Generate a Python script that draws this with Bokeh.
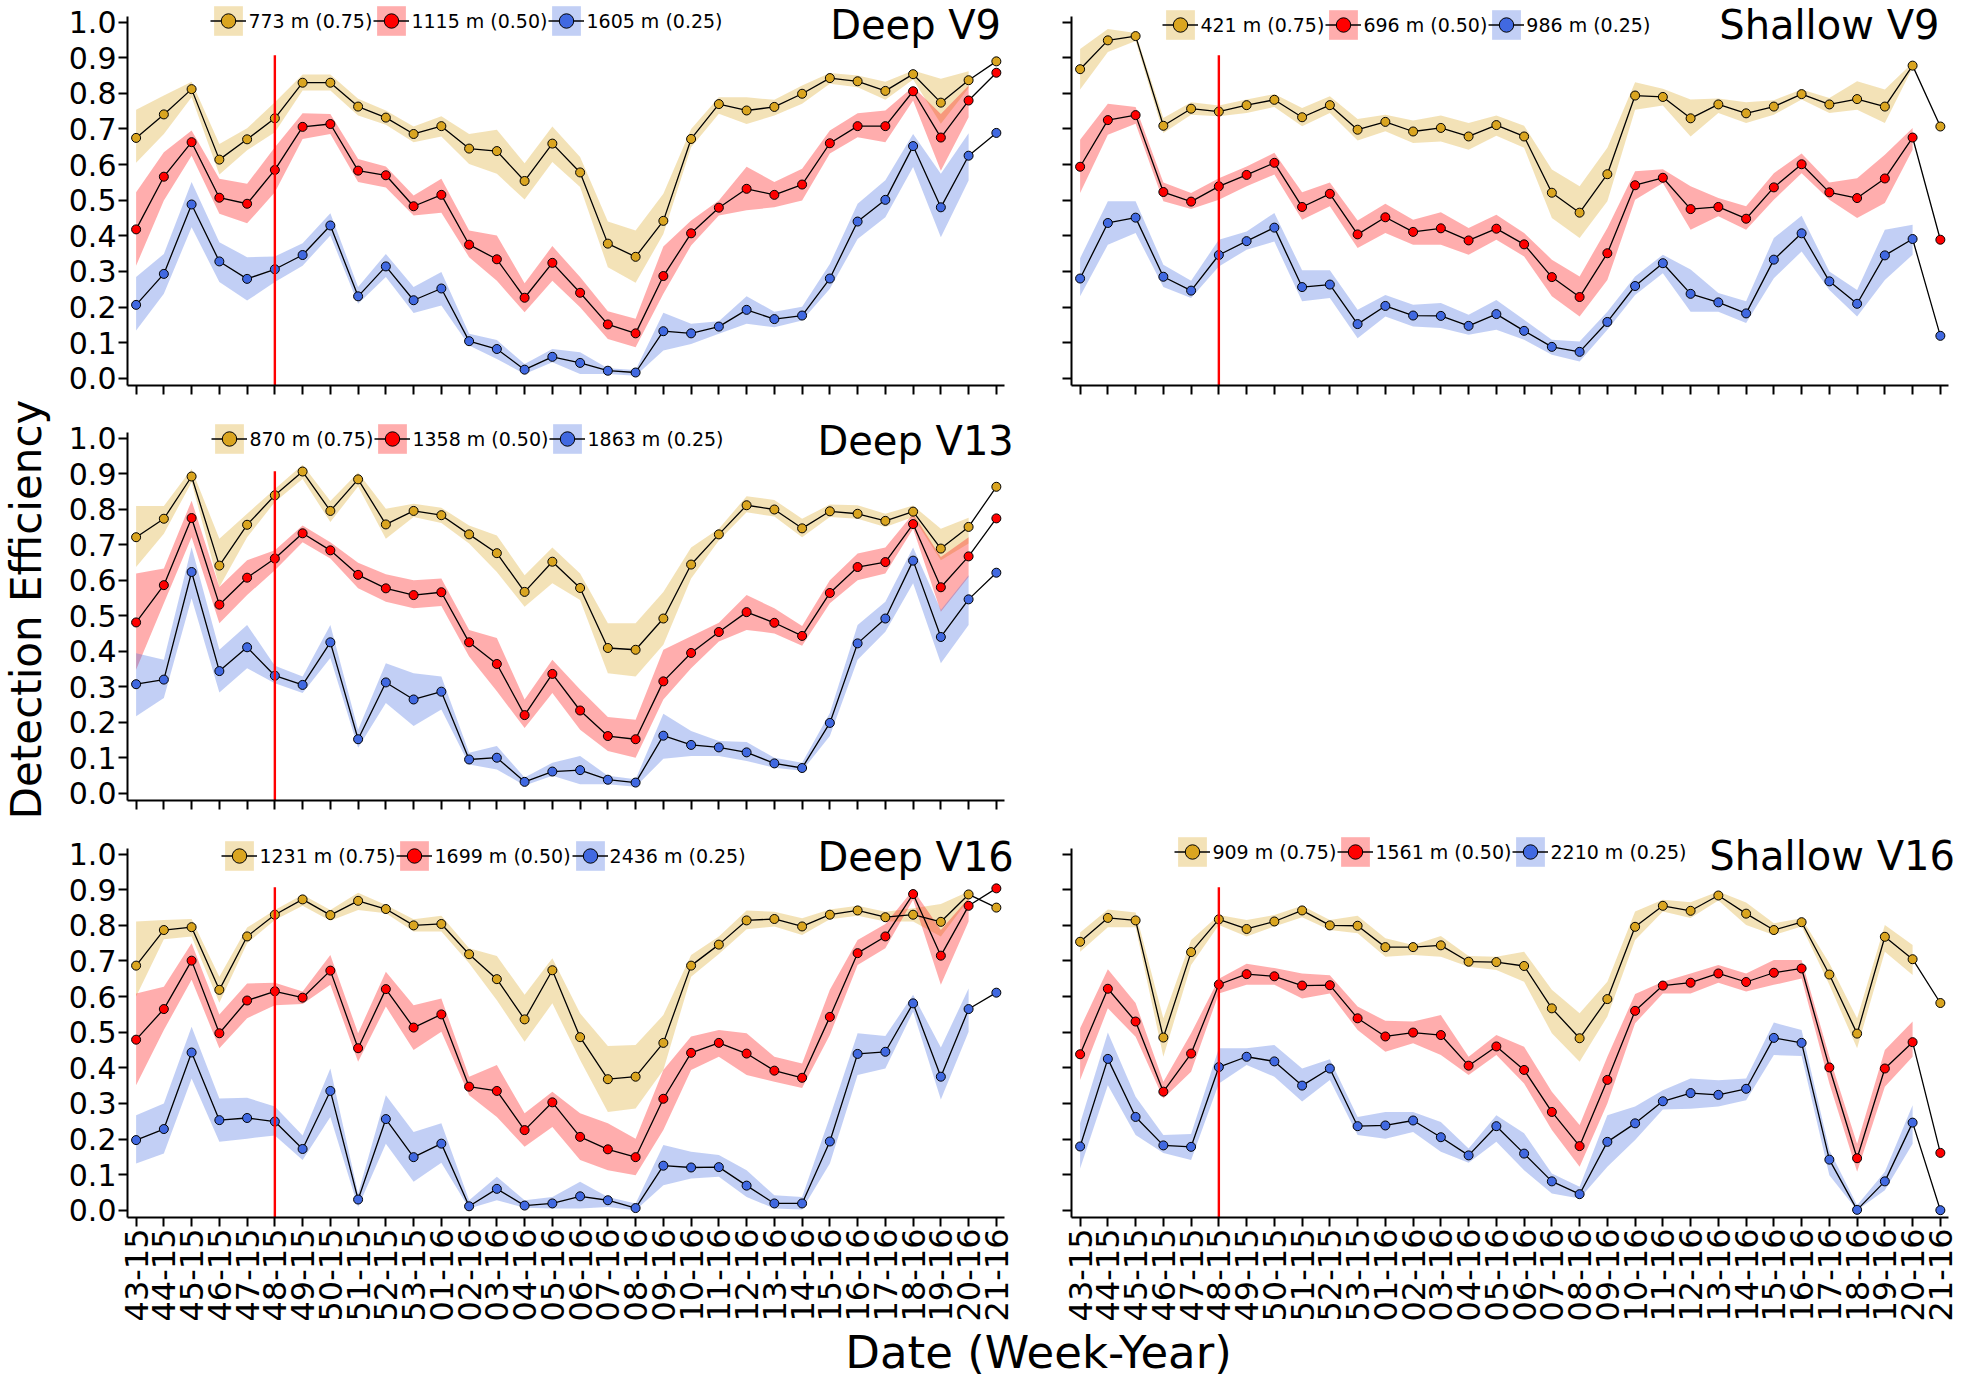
import math
from bokeh.plotting import figure
from bokeh.models import (Range1d, FixedTicker, PrintfTickFormatter, Legend,
                          LegendItem, Spacer)
from bokeh.layouts import row, column
from bokeh.core.properties import value
from bokeh.embed import file_html
from bokeh.resources import INLINE

# ---------------- data ----------------
WEEKS = ["43-15", "44-15", "45-15", "46-15", "47-15", "48-15", "49-15", "50-15",
         "51-15", "52-15", "53-15", "01-16", "02-16", "03-16", "04-16", "05-16",
         "06-16", "07-16", "08-16", "09-16", "10-16", "11-16", "12-16", "13-16",
         "14-16", "15-16", "16-16", "17-16", "18-16", "19-16", "20-16", "21-16"]
VLINE_WEEK = "48-15"
VLINE_TOP = 0.907
Y_TICKS = [0.0, 0.1, 0.2, 0.3, 0.4, 0.5, 0.6, 0.7, 0.8, 0.9, 1.0]

# Deep V9
DV9_LABELS = ["773 m (0.75)", "1115 m (0.50)", "1605 m (0.25)"]
DV9_Y75 = [.675, .741, .812, .614, .671, .730, .830, .830, .763, .732, .686, .708, .645, .638, .554, .659,
           .578, .378, .341, .442, .672, .770, .752, .762, .799, .843, .834, .807, .854, .774, .837, .890]
DV9_Y75_LO = [.605, .686, .789, .572, .640, .691, .808, .808, .738, .712, .663, .679, .602, .574, .502, .607,
              .537, .312, .268, .405, .649, .743, .714, .738, .771, .827, .817, .782, .839, .715, .815]
DV9_Y75_HI = [.754, .794, .833, .658, .702, .775, .853, .853, .785, .752, .707, .736, .686, .698, .604, .707,
              .621, .440, .415, .518, .700, .789, .789, .782, .822, .857, .850, .833, .864, .841, .862]
DV9_R50 = [.418, .566, .663, .507, .490, .585, .706, .714, .583, .570, .483, .515, .375, .334, .226, .324,
           .240, .151, .126, .287, .407, .479, .532, .515, .544, .660, .708, .708, .806, .676, .780, .858]
DV9_R50_LO = [.316, .499, .625, .462, .435, .522, .672, .686, .551, .536, .457, .465, .340, .274, .185, .274,
              .199, .110, .087, .237, .373, .457, .472, .480, .499, .631, .677, .663, .780, .583, .733]
DV9_R50_HI = [.522, .635, .696, .560, .546, .649, .744, .742, .616, .595, .513, .560, .415, .401, .267, .371,
              .284, .188, .167, .370, .443, .499, .594, .551, .588, .696, .744, .752, .819, .742, .822]
DV9_B25 = [.206, .293, .488, .328, .279, .306, .346, .429, .230, .314, .219, .252, .104, .082, .024, .060,
           .043, .021, .016, .132, .126, .145, .192, .166, .176, .280, .440, .501, .652, .480, .625, .689]
DV9_B25_LO = [.134, .237, .424, .270, .218, .270, .316, .401, .209, .284, .183, .204, .092, .054, .012, .045,
              .012, .012, .007, .078, .096, .125, .153, .143, .162, .251, .391, .452, .593, .396, .555]
DV9_B25_HI = [.284, .349, .551, .382, .340, .342, .379, .463, .256, .349, .256, .298, .125, .107, .040, .082,
              .073, .028, .023, .184, .153, .160, .230, .187, .201, .321, .490, .556, .686, .574, .688]

# Shallow V9
SV9_LABELS = ["421 m (0.75)", "696 m (0.50)", "986 m (0.25)"]
SV9_Y75 = [.868, .949, .961, .709, .757, .749, .767, .782, .733, .767, .698, .720, .693, .703, .679, .711,
           .679, .521, .465, .573, .794, .790, .730, .769, .744, .763, .798, .769, .784, .763, .878, .707]
SV9_Y75_LO = [.811, .916, .947, .689, .740, .736, .745, .762, .708, .745, .668, .694, .661, .665, .642, .681,
              .647, .450, .394, .497, .754, .766, .679, .745, .717, .740, .783, .745, .754, .717, .872]
SV9_Y75_HI = [.925, .981, .970, .731, .775, .766, .783, .798, .759, .792, .728, .740, .724, .738, .717, .738,
              .709, .586, .539, .647, .831, .813, .783, .786, .775, .781, .811, .787, .834, .811, .886]
SV9_R50 = [.594, .725, .739, .523, .496, .539, .571, .605, .481, .518, .404, .452, .411, .421, .387, .420,
           .376, .284, .228, .351, .542, .563, .475, .481, .448, .536, .601, .522, .506, .561, .676, .389]
SV9_R50_LO = [.520, .684, .715, .497, .475, .501, .539, .572, .445, .483, .366, .408, .375, .375, .347, .389,
              .342, .230, .173, .276, .501, .548, .417, .455, .417, .501, .576, .501, .450, .492, .642]
SV9_R50_HI = [.670, .771, .762, .550, .520, .562, .595, .633, .522, .550, .443, .490, .445, .466, .422, .459,
              .408, .333, .286, .422, .581, .587, .539, .506, .483, .576, .631, .550, .562, .628, .703]
SV9_B25 = [.280, .436, .451, .285, .246, .346, .385, .423, .256, .263, .152, .203, .176, .175, .147, .180,
           .133, .088, .074, .158, .259, .323, .237, .213, .182, .333, .407, .272, .209, .345, .391, .119]
SV9_B25_LO = [.230, .375, .408, .256, .225, .314, .361, .384, .216, .225, .112, .173, .145, .141, .122, .136,
              .108, .066, .047, .136, .234, .295, .187, .187, .155, .281, .356, .248, .173, .276, .347]
SV9_B25_HI = [.337, .497, .497, .319, .274, .389, .412, .464, .303, .303, .192, .234, .206, .211, .178, .220,
              .164, .108, .103, .187, .286, .347, .305, .239, .216, .394, .456, .300, .248, .417, .431]

# Deep V13
DV13_LABELS = ["870 m (0.75)", "1358 m (0.50)", "1863 m (0.25)"]
DV13_Y75 = [.721, .773, .892, .641, .756, .839, .906, .795, .884, .757, .795, .783, .729, .676, .567, .652,
            .578, .409, .404, .492, .644, .729, .811, .799, .746, .794, .787, .767, .793, .689, .750, .863]
DV13_Y75_LO = [.637, .731, .876, .581, .721, .820, .885, .764, .864, .717, .778, .761, .703, .623, .525, .591,
               .544, .338, .329, .418, .605, .712, .791, .779, .721, .778, .773, .750, .778, .656, .703]
DV13_Y75_HI = [.809, .809, .913, .717, .787, .857, .925, .823, .903, .801, .815, .804, .754, .726, .614, .692,
               .619, .479, .479, .567, .692, .745, .836, .826, .773, .813, .811, .787, .810, .745, .776]
DV13_R50 = [.481, .586, .775, .531, .607, .661, .732, .684, .615, .577, .558, .566, .425, .364, .220, .336,
            .233, .161, .152, .315, .395, .454, .510, .480, .443, .564, .637, .651, .758, .580, .667, .774]
DV13_R50_LO = [.348, .535, .721, .479, .558, .628, .707, .661, .577, .539, .521, .527, .385, .287, .184, .282,
               .179, .119, .100, .264, .352, .427, .460, .450, .415, .535, .600, .619, .745, .511, .609]
DV13_R50_HI = [.619, .633, .824, .581, .656, .684, .754, .707, .649, .617, .600, .605, .460, .437, .264, .376,
               .292, .215, .207, .404, .442, .480, .558, .521, .471, .600, .675, .692, .787, .665, .721]
DV13_B25 = [.307, .320, .623, .344, .411, .331, .305, .425, .152, .312, .264, .286, .095, .100, .032, .061,
            .065, .038, .030, .162, .136, .129, .115, .084, .071, .198, .422, .492, .655, .440, .546, .621]
DV13_B25_LO = [.217, .268, .549, .284, .352, .310, .282, .381, .128, .254, .189, .236, .081, .067, .022, .049,
               .025, .025, .018, .097, .105, .105, .091, .072, .063, .161, .376, .455, .591, .366, .474]
DV13_B25_HI = [.394, .376, .693, .404, .474, .359, .329, .474, .179, .366, .338, .329, .114, .133, .044, .086,
               .105, .049, .039, .224, .175, .147, .144, .100, .086, .226, .474, .539, .692, .516, .614]

# Deep V16
DV16_LABELS = ["1231 m (0.75)", "1699 m (0.50)", "2436 m (0.25)"]
DV16_Y75 = [.687, .787, .795, .619, .769, .830, .873, .829, .869, .846, .800, .804, .719, .649, .536, .674,
            .486, .368, .375, .470, .687, .746, .814, .818, .797, .830, .842, .823, .830, .810, .887, .850]
DV16_Y75_LO = [.600, .761, .769, .583, .750, .815, .855, .813, .843, .834, .783, .783, .694, .590, .473, .581,
               .422, .276, .286, .394, .656, .720, .789, .797, .773, .817, .827, .811, .811, .769, .872]
DV16_Y75_HI = [.811, .815, .818, .656, .794, .843, .886, .843, .892, .857, .817, .827, .736, .714, .605, .708,
               .553, .461, .464, .548, .717, .769, .842, .838, .820, .845, .855, .838, .848, .860, .895]
DV16_R50 = [.479, .565, .701, .497, .589, .615, .597, .673, .455, .621, .513, .550, .347, .335, .225, .303,
            .206, .171, .149, .313, .442, .470, .440, .392, .372, .543, .722, .769, .888, .715, .855, .904]
DV16_R50_LO = [.351, .506, .647, .455, .539, .576, .579, .633, .417, .572, .450, .501, .323, .262, .178, .234,
               .141, .112, .098, .225, .394, .431, .380, .361, .343, .492, .689, .736, .872, .633, .811]
DV16_R50_HI = [.609, .628, .750, .550, .637, .639, .614, .717, .497, .670, .576, .595, .375, .408, .272, .333,
               .272, .244, .201, .394, .488, .506, .497, .431, .412, .619, .759, .804, .900, .787, .877]
DV16_B25 = [.197, .228, .443, .253, .259, .249, .172, .335, .030, .256, .149, .187, .011, .060, .013, .019,
            .039, .028, .006, .125, .120, .121, .069, .019, .019, .193, .439, .445, .581, .375, .565, .611]
DV16_B25_LO = [.131, .159, .370, .192, .201, .210, .141, .262, .009, .187, .080, .133, .005, .028, .007, .005,
               .005, .009, .000, .070, .089, .094, .037, .005, .002, .131, .380, .398, .558, .311, .501]
DV16_B25_HI = [.267, .300, .515, .314, .316, .291, .210, .398, .047, .323, .220, .244, .028, .094, .028, .037,
               .080, .037, .019, .183, .164, .155, .112, .042, .037, .262, .497, .489, .605, .457, .623]

# Shallow V16
SV16_LABELS = ["909 m (0.75)", "1561 m (0.50)", "2210 m (0.25)"]
SV16_Y75 = [.754, .821, .814, .485, .725, .817, .790, .811, .842, .800, .799, .739, .739, .744, .698, .697,
            .686, .567, .483, .593, .796, .855, .841, .884, .833, .787, .809, .662, .496, .768, .705, .582]
SV16_Y75_LO = [.726, .795, .795, .431, .689, .801, .769, .797, .823, .787, .778, .712, .717, .712, .684, .675,
               .642, .497, .417, .544, .759, .839, .821, .870, .801, .773, .797, .633, .455, .726, .661]
SV16_Y75_HI = [.780, .845, .836, .539, .759, .829, .815, .829, .855, .815, .827, .764, .745, .770, .714, .712,
               .726, .619, .553, .642, .839, .872, .865, .895, .864, .806, .820, .694, .539, .801, .745]
SV16_R50 = [.438, .622, .530, .333, .440, .634, .663, .657, .631, .632, .539, .488, .499, .492, .406, .460,
            .394, .276, .180, .366, .560, .631, .639, .665, .641, .667, .679, .401, .146, .398, .472, .161]
SV16_R50_LO = [.366, .567, .487, .314, .389, .609, .633, .633, .595, .609, .506, .445, .469, .436, .380, .436,
               .356, .225, .122, .300, .525, .609, .609, .639, .614, .633, .651, .356, .108, .347, .431]
SV16_R50_HI = [.511, .677, .582, .361, .497, .650, .692, .680, .665, .660, .572, .532, .530, .548, .431, .492,
               .459, .333, .239, .431, .607, .642, .665, .689, .665, .703, .703, .431, .187, .450, .530]
SV16_B25 = [.179, .425, .262, .182, .178, .402, .431, .418, .350, .398, .236, .238, .252, .205, .154, .236,
            .159, .081, .045, .192, .244, .306, .329, .324, .341, .484, .470, .142, .001, .081, .246, .000]
SV16_B25_LO = [.117, .351, .211, .161, .141, .356, .408, .375, .305, .366, .211, .201, .220, .164, .133, .192,
               .112, .047, .033, .122, .197, .283, .285, .291, .309, .436, .433, .098, .000, .056, .187]
SV16_B25_HI = [.244, .499, .319, .211, .214, .455, .455, .464, .398, .424, .262, .276, .276, .248, .173, .267,
               .216, .103, .066, .267, .291, .337, .370, .365, .370, .527, .506, .169, .014, .108, .295]

# ---------------- style / layout ----------------
FONT = "DejaVu Sans"
COLORS = ["goldenrod", "red", "royalblue"]
PX_PER_WEEK = 27.75
X0, X_AXIS_END = -0.31, 31.29
Y0, Y_AXIS_END = -0.0205, 1.016
PX_PER_UNIT = 356.0
EXTRA_TOP = 16          # frame headroom above the axis top (legend / title area)


def style_axis(ax, show_labels, size):
    ax.axis_line_width = 2
    ax.axis_line_color = "black"
    ax.major_tick_line_width = 2
    ax.major_tick_line_color = "black"
    ax.major_tick_in = 0
    ax.major_tick_out = 9
    ax.minor_tick_line_color = None
    ax.major_label_text_font = FONT
    ax.major_label_text_color = "black"
    ax.major_label_standoff = 2
    if show_labels:
        ax.major_label_text_font_size = size
    else:
        ax.major_label_text_font_size = "0px"
        ax.major_label_text_alpha = 0


def make_panel(title, series, labels, title_x, title_y, legend_xy,
               show_xlab, show_ylab, axis_h, frame_w, borders):
    frame_h = axis_h + EXTRA_TOP
    x1 = X0 + frame_w / PX_PER_WEEK
    y1 = Y_AXIS_END + EXTRA_TOP / PX_PER_UNIT
    p = figure(frame_width=frame_w, frame_height=frame_h,
               x_range=Range1d(X0, x1), y_range=Range1d(Y0, y1),
               output_backend="svg", toolbar_location=None, title_location=None,
               min_border_left=borders[0], min_border_right=borders[1],
               min_border_top=borders[2], min_border_bottom=borders[3])
    p.grid.visible = False
    p.outline_line_color = None
    xs = list(range(len(WEEKS)))

    bands = []
    for (mid, lo, hi), col in zip(series, COLORS):
        n = len(lo)
        bands.append(p.varea(x=xs[:n], y1=lo, y2=hi, fill_color=col, fill_alpha=0.32))
    lines, pts = [], []
    for (mid, lo, hi), col in zip(series, COLORS):
        lines.append(p.line(xs, mid, line_color="black", line_width=1.3))
        pts.append(p.scatter(xs, mid, size=9, fill_color=col, line_color="black", line_width=1))

    vx = WEEKS.index(VLINE_WEEK)
    p.segment(x0=[vx], y0=[Y0 - 0.05], x1=[vx], y1=[VLINE_TOP],
              line_color="red", line_width=2.4)

    p.xaxis.ticker = FixedTicker(ticks=xs)
    p.xaxis.major_label_overrides = {i: w for i, w in enumerate(WEEKS)}
    p.xaxis.major_label_orientation = math.pi / 2
    p.xaxis.bounds = (X0, X_AXIS_END)
    p.yaxis.ticker = FixedTicker(ticks=Y_TICKS)
    p.yaxis.formatter = PrintfTickFormatter(format="%.1f")
    p.yaxis.bounds = (Y0, Y_AXIS_END)
    style_axis(p.xaxis[0], show_xlab, "32px")
    style_axis(p.yaxis[0], show_ylab, "30px")

    items = [LegendItem(label=lab, renderers=[b, l, s])
             for lab, b, l, s in zip(labels, bands, lines, pts)]
    leg = Legend(items=items, orientation="horizontal", location=legend_xy,
                 glyph_width=36, glyph_height=37, label_standoff=2, spacing=1,
                 padding=0, margin=0, border_line_color=None,
                 background_fill_alpha=0, label_text_font=FONT,
                 label_text_font_size="19px", label_text_color="black")
    p.add_layout(leg)

    p.text(x=[title_x], y=[title_y], text=[title], text_align="center",
           text_baseline="middle", text_font=value(FONT),
           text_font_size="40px", text_color="black")
    return p


LEFT_W, RIGHT_W = 889, 887
ROW3_BOTTOM = 107
p_dv9 = make_panel("Deep V9",
                   [(DV9_Y75, DV9_Y75_LO, DV9_Y75_HI), (DV9_R50, DV9_R50_LO, DV9_R50_HI),
                    (DV9_B25, DV9_B25_LO, DV9_B25_HI)], DV9_LABELS,
                   28.09, 0.993, (83.4, 346), False, True, 369, LEFT_W, (74, 35, 0, 23))
p_sv9 = make_panel("Shallow V9",
                   [(SV9_Y75, SV9_Y75_LO, SV9_Y75_HI), (SV9_R50, SV9_R50_LO, SV9_R50_HI),
                    (SV9_B25, SV9_B25_LO, SV9_B25_HI)], SV9_LABELS,
                   27.0, 0.993, (91.4, 342), False, False, 369, RIGHT_W, (20, 1, 0, 23))
p_dv13 = make_panel("Deep V13",
                    [(DV13_Y75, DV13_Y75_LO, DV13_Y75_HI), (DV13_R50, DV13_R50_LO, DV13_R50_HI),
                     (DV13_B25, DV13_B25_LO, DV13_B25_HI)], DV13_LABELS,
                    28.09, 0.992, (84.4, 343), False, True, 368, LEFT_W, (74, 35, 8, 24))
p_dv16 = make_panel("Deep V16",
                    [(DV16_Y75, DV16_Y75_LO, DV16_Y75_HI), (DV16_R50, DV16_R50_LO, DV16_R50_HI),
                     (DV16_B25, DV16_B25_LO, DV16_B25_HI)], DV16_LABELS,
                    28.09, 0.993, (94.4, 343), True, True, 369, LEFT_W, (74, 35, 8, ROW3_BOTTOM))
p_sv16 = make_panel("Shallow V16",
                    [(SV16_Y75, SV16_Y75_LO, SV16_Y75_HI), (SV16_R50, SV16_R50_LO, SV16_R50_HI),
                     (SV16_B25, SV16_B25_LO, SV16_B25_HI)], SV16_LABELS,
                    27.1, 0.996, (103.4, 347), True, False, 369, RIGHT_W, (20, 1, 8, ROW3_BOTTOM))

# axis titles in thin strips
STRIP_W, STRIP_H = 53, 408 + 416 + (8 + 385 + ROW3_BOTTOM)
left_strip = figure(width=STRIP_W, height=STRIP_H, x_range=Range1d(0, STRIP_W),
                    y_range=Range1d(0, STRIP_H), min_border=0, toolbar_location=None,
                    title_location=None, output_backend="svg",
                    x_axis_type=None, y_axis_type=None, outline_line_color=None)
left_strip.grid.visible = False
left_strip.text(x=[25.5], y=[STRIP_H - 609], text=["Detection Efficiency"], angle=math.pi / 2,
                text_align="center", text_baseline="middle", text_font=value(FONT),
                text_font_size="42px", text_color="black")

BOTTOM_W, BOTTOM_H = 1959, 1380 - STRIP_H
bottom_strip = figure(width=BOTTOM_W, height=BOTTOM_H, x_range=Range1d(0, BOTTOM_W),
                      y_range=Range1d(0, BOTTOM_H), min_border=0, toolbar_location=None,
                      title_location=None, output_backend="svg",
                      x_axis_type=None, y_axis_type=None, outline_line_color=None)
bottom_strip.grid.visible = False
bottom_strip.text(x=[1038], y=[1380 - 1352], text=["Date (Week-Year)"], text_align="center",
                  text_baseline="middle", text_font=value(FONT),
                  text_font_size="45px", text_color="black")

grid = column(row(p_dv9, p_sv9),
              row(p_dv13, Spacer(width=20 + RIGHT_W + 1, height=416)),
              row(p_dv16, p_sv16))
layout = column(row(left_strip, grid), bottom_strip)

open("out.html", "w").write(file_html(layout, INLINE))
